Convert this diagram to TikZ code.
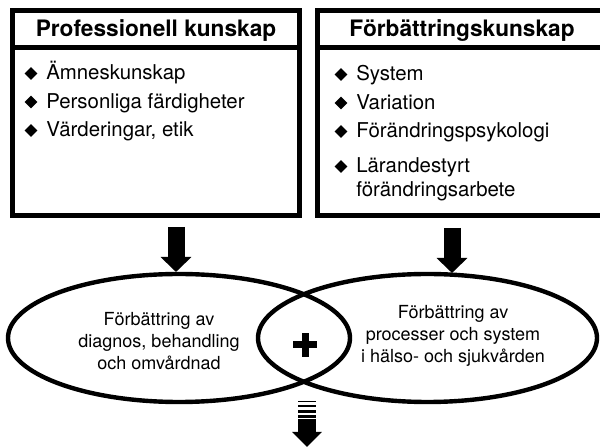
\documentclass[tikz,border=0pt]{standalone}
\usepackage{fontspec}
\setmainfont{TeX Gyre Heros}
\usetikzlibrary{shapes.geometric,arrows.meta}
\begin{document}
\begin{tikzpicture}[x=0.75pt,y=-0.75pt,
  frame/.style={draw=black, line width=3.6pt},
  ttl/.style={font=\fontsize{17}{20}\selectfont\bfseries, anchor=base, inner sep=0pt},
  item/.style={font=\fontsize{15.3}{18}\selectfont, anchor=base west, inner sep=0pt, align=left},
  bul/.style={diamond, fill=black, inner sep=0pt, minimum width=9.6pt, minimum height=9.8pt},
  ell/.style={ellipse, draw=black, line width=3.3pt, inner sep=0pt},
  etxt/.style={font=\fontsize{13.5}{16.4}\selectfont, align=center, inner sep=0pt},
  bigarrow/.style={line width=12.75pt, -{Triangle[width=22.5pt,length=11.25pt]}},
  botarrow/.style={line width=13.5pt, -{Triangle[width=21.75pt,length=11.25pt]}}
]
\clip (0,0) rectangle (600,448);
\fill[white] (0,0) rectangle (600,448);

% boxes
\node[frame, minimum width=215.25pt, minimum height=153.75pt, inner sep=0pt] (B1) at (156,113) {};
\node[frame, minimum width=213.75pt, minimum height=153.75pt, inner sep=0pt] (B2) at (460,113) {};
\draw[frame] (12.5,47.5) -- (299.5,47.5);
\draw[frame] (317.5,47.5) -- (602.5,47.5);

% titles
\node[ttl] (T1) at (156,37) {Professionell kunskap};
\node[ttl] (T2) at (462,37) {Förbättringskunskap};

% left items
\node[bul] (dl1) at (31,73.5) {};
\node[item] (l1) at (46,80) {Ämneskunskap};
\node[bul] (dl2) at (31,102) {};
\node[item] (l2) at (46,108.5) {Personliga färdigheter};
\node[bul] (dl3) at (31,130.5) {};
\node[item] (l3) at (46,137) {Värderingar, etik};

% right items
\node[bul] (dr1) at (341,74.5) {};
\node[item] (r1) at (356,81) {System};
\node[bul] (dr2) at (341,103) {};
\node[item] (r2) at (356,109.5) {Variation};
\node[bul] (dr3) at (341,131.5) {};
\node[item] (r3) at (356,138) {Förändringspsykologi};
\node[bul] (dr4) at (341,166.5) {};
\node[item] (r4) at (356,173) {Lärandestyrt};
\node[item] (r5) at (356,197) {förändringsarbete};

% arrows down
\coordinate (a1s) at (176,227);
\coordinate (a1e) at (176,272);
\coordinate (a2s) at (452,228);
\coordinate (a2e) at (452,273);
\draw[bigarrow] (a1s) -- (a1e);
\draw[bigarrow] (a2s) -- (a2e);

% ellipses
\node[ell, minimum width=256.5pt, minimum height=96pt] (E1) at (179,338) {};
\node[ell, minimum width=254.25pt, minimum height=96pt] (E2) at (427.5,338) {};

\node[etxt] (X1) at (159,341) {Förbättring av\\diagnos, behandling\\och omvårdnad};
\node[etxt] (X2) at (453,336) {Förbättring av\\processer och system\\i hälso- och sjukvården};

% plus
\coordinate (P) at (305,345);
\fill ([shift={(-12,-3.5)}]P) rectangle ([shift={(12,3.5)}]P);
\fill ([shift={(-3.5,-12)}]P) rectangle ([shift={(3.5,12)}]P);

% bottom striped arrow
\coordinate (b0) at (307,419);
\coordinate (b1) at (307,447);
\fill (298,401) rectangle (316,402.5);
\fill (298,405) rectangle (316,407);
\fill (298,410.5) rectangle (316,413);
\fill (298,415.5) rectangle (316,418);
\draw[botarrow] (b0) -- (b1);
\end{tikzpicture}
\end{document}
